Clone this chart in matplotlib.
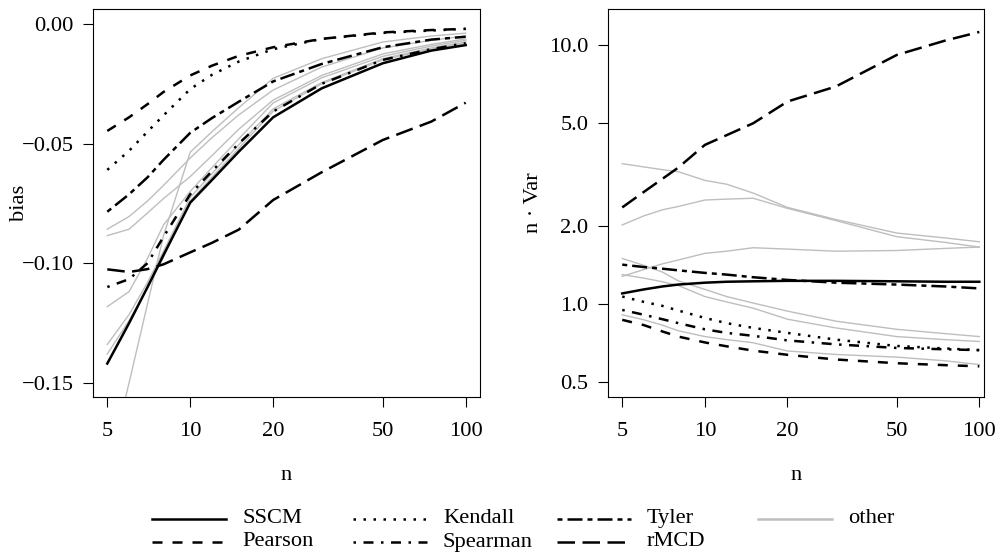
import matplotlib
matplotlib.use("Agg")
import matplotlib.pyplot as plt
from matplotlib.lines import Line2D

plt.rcParams['font.family'] = ['Liberation Serif', 'DejaVu Serif']

# sample sizes
n = [5, 6, 7, 8, 10, 12, 15, 20, 30, 50, 75, 100]

# bias (left panel)
bias_sscm = [-0.1420, -0.1251, -0.1100, -0.0966, -0.0747, -0.0652, -0.0534, -0.0390, -0.0269, -0.0164, -0.0111, -0.0088]
bias_pearson = [-0.0447, -0.0390, -0.0335, -0.0284, -0.0215, -0.0174, -0.0133, -0.0097, -0.0062, -0.0035, -0.0025, -0.0020]
bias_kendall = [-0.0610, -0.0530, -0.0450, -0.0382, -0.0272, -0.0212, -0.0157, -0.0105, -0.0062, -0.0037, -0.0027, -0.0020]
bias_spearman = [-0.1100, -0.1067, -0.1000, -0.0890, -0.0712, -0.0615, -0.0500, -0.0366, -0.0250, -0.0150, -0.0105, -0.0080]
bias_tyler = [-0.0785, -0.0712, -0.0641, -0.0568, -0.0455, -0.0393, -0.0325, -0.0240, -0.0167, -0.0097, -0.0065, -0.0053]
bias_rmcd = [-0.1026, -0.1037, -0.1025, -0.1005, -0.0955, -0.0915, -0.0860, -0.0736, -0.0620, -0.0485, -0.0408, -0.0329]
bias_other = [
    [-0.0858, -0.0805, -0.0740, -0.0675, -0.0560, -0.0475, -0.0380, -0.0276, -0.0180, -0.0100, -0.0068, -0.0050],
    [-0.0885, -0.0858, -0.0790, -0.0730, -0.0638, -0.0550, -0.0440, -0.0318, -0.0215, -0.0125, -0.0085, -0.0062],
    [-0.1182, -0.1119, -0.0980, -0.0840, -0.0700, -0.0600, -0.0480, -0.0330, -0.0225, -0.0135, -0.0092, -0.0068],
    [-0.1340, -0.1215, -0.1080, -0.0950, -0.0725, -0.0625, -0.0505, -0.0355, -0.0245, -0.0145, -0.0100, -0.0075],
    [-0.1380, -0.1240, -0.1105, -0.0975, -0.0740, -0.0640, -0.0520, -0.0365, -0.0250, -0.0150, -0.0105, -0.0080],
    [-0.1880, -0.1500, -0.1170, -0.0885, -0.0536, -0.0450, -0.0350, -0.0227, -0.0145, -0.0075, -0.0050, -0.0038],
]

# n * variance (right panel)
var_sscm = [1.10, 1.14, 1.17, 1.19, 1.21, 1.22, 1.225, 1.23, 1.23, 1.225, 1.22, 1.22]
var_pearson = [0.870, 0.830, 0.785, 0.750, 0.712, 0.688, 0.662, 0.638, 0.612, 0.592, 0.582, 0.576]
var_kendall = [1.070, 1.020, 0.985, 0.945, 0.885, 0.845, 0.810, 0.775, 0.730, 0.690, 0.675, 0.665]
var_spearman = [0.950, 0.910, 0.875, 0.845, 0.800, 0.775, 0.755, 0.725, 0.700, 0.678, 0.670, 0.665]
var_tyler = [1.42, 1.39, 1.37, 1.35, 1.32, 1.30, 1.27, 1.24, 1.21, 1.19, 1.17, 1.15]
var_rmcd = [2.36, 2.71, 3.04, 3.36, 4.11, 4.48, 4.98, 6.04, 6.90, 9.13, 10.37, 11.2]
var_other = [
    [3.48, 3.38, 3.30, 3.24, 3.00, 2.90, 2.68, 2.36, 2.12, 1.88, 1.80, 1.74],
    [2.02, 2.19, 2.31, 2.38, 2.52, 2.54, 2.56, 2.34, 2.10, 1.82, 1.73, 1.66],
    [1.28, 1.36, 1.43, 1.48, 1.57, 1.60, 1.65, 1.63, 1.60, 1.61, 1.64, 1.66],
    [1.50, 1.41, 1.33, 1.23, 1.14, 1.07, 1.01, 0.94, 0.86, 0.80, 0.77, 0.75],
    [1.30, 1.26, 1.22, 1.18, 1.07, 1.02, 0.965, 0.875, 0.81, 0.75, 0.73, 0.718],
    [0.91, 0.87, 0.83, 0.79, 0.75, 0.73, 0.71, 0.66, 0.64, 0.625, 0.605, 0.585],
]

names = ['SSCM', 'Pearson', 'Kendall', 'Spearman', 'Tyler', 'rMCD']
styles = {
    'SSCM': '-',
    'Pearson': (0, (4, 4)),
    'Kendall': (0, (1, 3)),
    'Spearman': (0, (1, 3, 4, 3)),
    'Tyler': (0, (2, 2, 6, 2)),
    'rMCD': (0, (7, 3)),
}
bias_main = dict(zip(names, [bias_sscm, bias_pearson, bias_kendall, bias_spearman, bias_tyler, bias_rmcd]))
var_main = dict(zip(names, [var_sscm, var_pearson, var_kendall, var_spearman, var_tyler, var_rmcd]))

grey = '#BEBEBE'
lw_main = 1.8
fs = 16.2

fig = plt.figure(figsize=(10.01, 5.56), dpi=100)
ax1 = fig.add_axes([93 / 1001, 1 - 397 / 556, 387 / 1001, 388 / 556])
ax2 = fig.add_axes([607.7 / 1001, 1 - 397 / 556, 376.3 / 1001, 388 / 556])

for g in bias_other:
    ax1.plot(n, g, color=grey, lw=1.0)
for k in names:
    ax1.plot(n, bias_main[k], color='black', lw=lw_main, linestyle=styles[k])

for g in var_other:
    ax2.plot(n, g, color=grey, lw=1.0)
for k in names:
    ax2.plot(n, var_main[k], color='black', lw=lw_main, linestyle=styles[k])

xticks = [5, 10, 20, 50, 100]
for ax in (ax1, ax2):
    ax.set_xscale('log')
    ax.set_xticks(xticks)
    ax.set_xticklabels([str(t) for t in xticks])
    ax.minorticks_off()
    ax.tick_params(axis='x', length=7, width=0.8, pad=11, labelsize=fs)
    ax.tick_params(axis='y', length=7, width=0.8, pad=7, labelsize=fs)
    for s in ax.spines.values():
        s.set_linewidth(0.8)

ax1.set_xlim(4.437, 112.7)
ax1.set_ylim(-0.156, 0.0063)
yt1 = [0.0, -0.05, -0.10, -0.15]
ax1.set_yticks(yt1)
ax1.set_yticklabels(['0.00', '\u22120.05', '\u22120.10', '\u22120.15'])

ax2.set_xlim(4.426, 104.0)
ax2.set_yscale('log')
ax2.set_ylim(0.4387, 13.73)
yt2 = [0.5, 1.0, 2.0, 5.0, 10.0]
ax2.minorticks_off()
ax2.set_yticks(yt2)
ax2.set_yticklabels(['%.1f' % v for v in yt2])

fig.text(19 / 1001, 1 - 203 / 556, 'bias', rotation=90, ha='center', va='center', fontsize=fs)
fig.text(534 / 1001, 1 - 203 / 556, 'n \u00b7 Var', rotation=90, ha='center', va='center', fontsize=fs)

fig.text(286.5 / 1001, 1 - 480 / 556, 'n', ha='center', va='baseline', fontsize=fs)
fig.text(796 / 1001, 1 - 480 / 556, 'n', ha='center', va='baseline', fontsize=fs)

# legend drawn by hand to mimic the equal-width columns
entries = [
    ('SSCM', 'black', styles['SSCM'], 0, 0),
    ('Pearson', 'black', styles['Pearson'], 0, 1),
    ('Kendall', 'black', styles['Kendall'], 1, 0),
    ('Spearman', 'black', styles['Spearman'], 1, 1),
    ('Tyler', 'black', styles['Tyler'], 2, 0),
    ('rMCD', 'black', styles['rMCD'], 2, 1),
    ('other', grey, '-', 3, 0),
]
col_x = [152, 353, 557, 758]
row_y = [518.5, 542]
for label, col, ls, c, r in entries:
    x0 = col_x[c]
    y = 1 - row_y[r] / 556
    lw = lw_main if col == 'black' else 1.8
    fig.add_artist(Line2D([x0 / 1001, (x0 + 74) / 1001], [y, y], color=col,
                          lw=lw, linestyle=ls, transform=fig.transFigure))
    fig.text((x0 + 90) / 1001, y, label, ha='left', va='center', fontsize=fs)

fig.savefig('out.png', dpi=100)
